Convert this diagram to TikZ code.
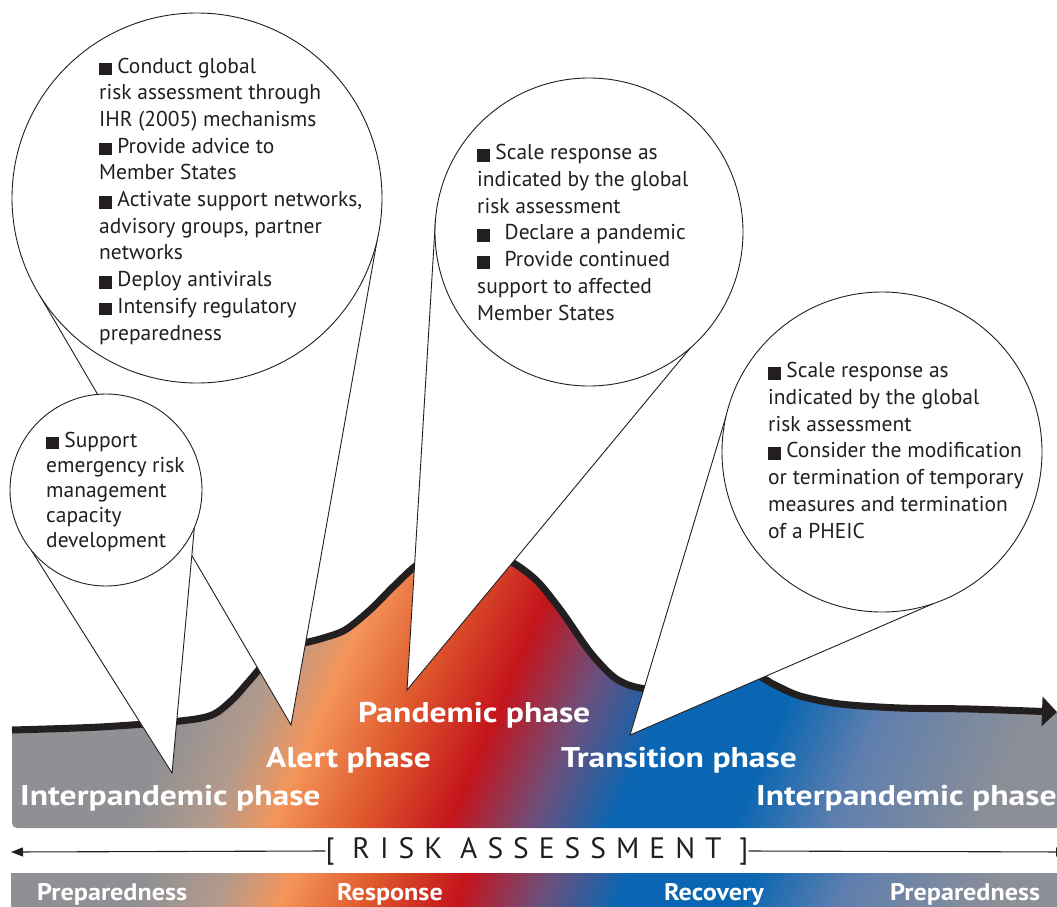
\documentclass[tikz,border=0pt]{standalone}
\usepackage{fontspec}
\setmainfont{PT Sans}
\newfontfamily\phasefont[FakeStretch=1.18]{PT Sans}
\newfontfamily\stagefont[FakeStretch=1.09]{PT Sans}
\usetikzlibrary{arrows.meta}

\definecolor{ink}{HTML}{231F20}
\definecolor{phgray}{HTML}{8F9094}
\definecolor{phtan}{HTML}{B39A8B}
\definecolor{phorange}{HTML}{F4955A}
\definecolor{phredor}{HTML}{DF5A2D}
\definecolor{phred}{HTML}{C4141C}
\definecolor{phpurple}{HTML}{6D4F7B}
\definecolor{phblue}{HTML}{0A66B2}
\definecolor{phsteel}{HTML}{5F7FAE}
\definecolor{phgraytwo}{HTML}{8C8F97}

\pgfdeclarehorizontalshading{phasebar}{100bp}{color(0bp)=(phgray); color(35.5bp)=(phgray);
  color(38.8bp)=(phtan); color(41.4bp)=(phorange); color(44.7bp)=(phredor);
  color(48.5bp)=(phred); color(51.8bp)=(phpurple); color(55bp)=(phblue);
  color(60bp)=(phblue); color(64bp)=(phsteel); color(70.2bp)=(phgraytwo);
  color(100bp)=(phgraytwo)}

\pgfdeclarelayer{back}
\pgfdeclarelayer{tails}
\pgfsetlayers{back,tails,main}

\newcommand{\blt}{\rule[-2pt]{12.5pt}{12.5pt}}

\begin{document}
\begin{tikzpicture}[x=1pt,y=-1pt,
  callout/.style={circle, draw=ink, line width=0.9pt, fill=white, inner sep=0pt, outer sep=0pt},
  tail/.style={draw=ink, line width=0.9pt, fill=white},
  bullets/.style={anchor=base west, align=left, inner sep=0pt, text=ink, font=\fontsize{21.5}{26.7}\selectfont},
  phase/.style={anchor=base west, inner sep=0pt, text=white, font=\fontsize{28.5}{30}\phasefont\bfseries},
  stage/.style={anchor=base west, inner sep=0pt, text=white, font=\fontsize{24}{26}\stagefont\bfseries},
  riskline/.style={draw=ink, line width=1.1pt}]
\useasboundingbox (0,0) rectangle (1057,907);

% gradient band and curve
\begin{pgfonlayer}{back}
\begin{scope}
\clip plot[smooth] coordinates {(12,730) (100,727) (180,721) (212,715) (232,700) (250,680) (268,660) (290,647) (320,639) (345,630) (370,610) (395,585) (420,563) (455,550) (490,553) (515,564) (538,582) (562,612) (590,652) (615,678) (640,688) (680,690) (720,680) (752,674) (775,685) (800,696) (840,704) (900,708) (970,709) (1057,712)} -- (1057,828) -- (17,828) [rounded corners=5pt] -- (12,828) -- (12,780) [sharp corners] -- cycle;
\begin{scope}[transform canvas={rotate=-23}]
\shade[shading=phasebar] (200,0) rectangle (1340,900);
\end{scope}
\end{scope}
\draw[ink, line width=7pt, line join=round, -{Triangle[length=15pt,width=29pt]}] plot[smooth] coordinates {(12,730) (100,727) (180,721) (212,715) (232,700) (250,680) (268,660) (290,647) (320,639) (345,630) (370,610) (395,585) (420,563) (455,550) (490,553) (515,564) (538,582) (562,612) (590,652) (615,678) (640,688) (680,690) (720,680) (752,674) (775,685) (800,696) (840,704) (900,708) (970,709) (1057,712)};
\begin{scope}
\clip (11,873) rectangle (1057,907);
\begin{scope}[transform canvas={xshift=40pt,rotate=-23}]
\shade[shading=phasebar] (200,0) rectangle (1340,900);
\end{scope}
\end{scope}
\end{pgfonlayer}

% callouts
\node[callout, minimum size=370pt] (bigcall) at (197,198) {};
\node[callout, minimum size=192pt] (smallcall) at (106,490) {};
\node[callout, minimum size=308pt] (pandcall) at (589,232) {};
\node[callout, minimum size=320pt] (transcall) at (882,452) {};

\coordinate (tipalert) at (291,725);
\coordinate (tipinter) at (172,773);
\coordinate (tippand) at (407,690);
\coordinate (tiptrans) at (630,735);

\begin{pgfonlayer}{tails}
\draw[tail] (bigcall.212.7) -- (tipalert) -- (bigcall.347) -- cycle;
\draw[tail] (smallcall.219) -- (tipinter) -- (smallcall.337) -- cycle;
\draw[tail] (pandcall.176.7) -- (tippand) -- (pandcall.311) -- cycle;
\draw[tail] (transcall.167) -- (tiptrans) -- (transcall.289) -- cycle;
\end{pgfonlayer}

\node[bullets] (bigtext) at (99,340) {\blt{} Conduct global\\ risk assessment through\\ IHR (2005) mechanisms\\ \blt{} Provide advice to\\ Member States\\ \blt{} Activate support networks,\\ advisory groups, partner\\ networks\\ \blt{} Deploy antivirals\\ \blt{} Intensify regulatory\\ preparedness};
\node[bullets, font=\fontsize{21.5}{25}\selectfont] (smalltext) at (46,547) {\blt{} Support\\ emergency risk\\ management\\ capacity\\ development};
\node[bullets] (pandtext) at (477,320) {\blt{} Scale response as\\ indicated by the global\\ risk assessment\\ \blt\hspace{15pt}Declare a pandemic\\ \blt\hspace{15pt}Provide continued\\ support to affected\\ Member States};
\node[bullets] (transtext) at (768,538) {\blt{} Scale response as\\ indicated by the global\\ risk assessment\\ \blt{} Consider the modification\\ or termination of temporary\\ measures and termination\\ of a PHEIC};

% phase names
\node[phase] (lblinter) at (20,805) {Interpandemic phase};
\node[phase] (lblalert) at (266,767) {Alert phase};
\node[phase] (lblpand) at (358,722) {Pandemic phase};
\node[phase] (lbltrans) at (561,767) {Transition phase};
\node[phase] (lblinterb) at (756,805) {Interpandemic phase};

% risk assessment line
\node[inner sep=0pt, text=ink, font=\fontsize{29.5}{31}\selectfont\addfontfeature{LetterSpace=34}] (riskas) at (537,851) {[ RISK ASSESSMENT ]};
\coordinate (riskl) at (11,852);
\coordinate (riskr) at (1068,852);
\draw[riskline, -{Triangle[length=12pt,width=9pt]}] (riskas.west) -- (riskl);
\draw[riskline, -{Triangle[length=12pt,width=9pt]}] (riskas.east) -- (riskr);

% stages
\node[stage] (lblprep) at (37,900) {Preparedness};
\node[stage] (lblresp) at (337,900) {Response};
\node[stage] (lblrecov) at (664,900) {Recovery};
\node[stage] (lblprepb) at (890,900) {Preparedness};
\end{tikzpicture}
\end{document}
